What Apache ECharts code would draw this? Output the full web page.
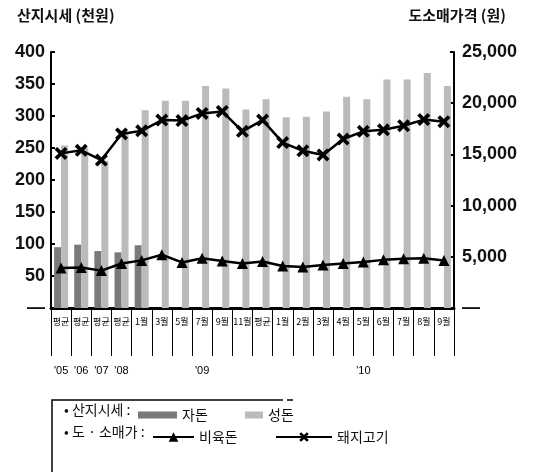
<!DOCTYPE html>
<html><head><meta charset="utf-8">
<script src="https://cdn.jsdelivr.net/npm/echarts@6/dist/echarts.min.js"></script>
<style>html,body{margin:0;padding:0;background:#fff}#c{width:535px;height:472px}</style>
</head><body><div id="c"></div>
<script>
// ---- data ----
const categories = ['평균','평균','평균','평균','1월','3월','5월','7월','9월','11월','평균','1월','2월','3월','4월','5월','6월','7월','8월','9월'];
const yearLabels = ["'05","'06","'07","'08","","","","'09","","","","","","","","'10","","","",""];
const yearBoundaries = [0,1,2,3,4,11];
const piglet = [95,99,89,87,98,null,null,null,null,null,null,null,null,null,null,null,null,null,null,null];      // 자돈 (천원)
const adult = [254,250,230,275,309,324,324,347,343,310,326,298,299,307,330,326,357,357,367,347];               // 성돈 (천원)
const wholesale = [3900,3950,3650,4350,4650,5200,4450,4850,4600,4350,4550,4100,4000,4200,4350,4500,4700,4800,4850,4650]; // 비육돈 (원)
const retail = [15100,15400,14450,17000,17300,18350,18300,19000,19200,17250,18350,16150,15350,14950,16500,17250,17400,17800,18400,18200]; // 돼지고기 (원)
const leftTickLabels = ['—','50','100','150','200','250','300','350','400'];
const rightTickLabels = ['—','5,000','10,000','15,000','20,000','25,000'];

const KR = '"Noto Sans CJK KR", sans-serif';
const NUM = '"Liberation Sans", Arial, sans-serif';
const xMark = 'path://M0,2 L2,0 L5,3 L8,0 L10,2 L7,5 L10,8 L8,10 L5,7 L2,10 L0,8 L3,5 Z';

const chart = echarts.init(document.getElementById('c'), null, {renderer: 'canvas'});
chart.setOption({
  animation: false,
  backgroundColor: '#fff',
  title: [
    {text: '산지시세 (천원)', left: 12, top: 3, textStyle: {fontFamily: KR, fontSize: 15, fontWeight: 'bold', color: '#111'}},
    {text: '도소매가격 (원)', right: 24, top: 3, textStyle: {fontFamily: KR, fontSize: 15, fontWeight: 'bold', color: '#111'}}
  ],
  grid: {left: 51, right: 81, top: 52, bottom: 164},
  legend: [
    {data: ['자돈'], left: 133, top: 403, icon: 'rect', itemWidth: 39, itemHeight: 7, textStyle: {fontFamily: KR, fontSize: 14, color: '#111'}},
    {data: ['성돈'], left: 240, top: 403, icon: 'rect', itemWidth: 18, itemHeight: 7, textStyle: {fontFamily: KR, fontSize: 14, color: '#111'}},
    {data: ['비육돈'], left: 147, top: 425, itemWidth: 41, itemHeight: 12, textStyle: {fontFamily: KR, fontSize: 14, color: '#111'}},
    {data: ['돼지고기'], left: 270, top: 425, itemWidth: 56, itemHeight: 12, textStyle: {fontFamily: KR, fontSize: 14, color: '#111'}}
  ],
  xAxis: [
    {type: 'category', data: categories, position: 'bottom',
     axisLine: {lineStyle: {color: '#000', width: 3}},
     axisTick: {show: true, interval: 0, length: 48, lineStyle: {color: '#000', width: 1}},
     axisLabel: {interval: 0, fontFamily: KR, fontSize: 9, color: '#000', margin: 9}},
    {type: 'category', data: yearLabels, position: 'bottom', offset: 48,
     axisLine: {show: false},
     axisTick: {show: true, length: 32, interval: function (i) { return yearBoundaries.indexOf(i) >= 0; }, lineStyle: {color: '#000', width: 1}},
     axisLabel: {interval: 0, fontFamily: NUM, fontSize: 11, color: '#000', margin: 9}}
  ],
  yAxis: [
    {type: 'value', min: 0, max: 400, interval: 50, position: 'left',
     axisLine: {show: true, lineStyle: {color: '#000', width: 2}},
     axisTick: {show: true, inside: true, length: 4, lineStyle: {color: '#000', width: 2}},
     splitLine: {show: false},
     axisLabel: {margin: 6, fontFamily: NUM, fontSize: 18, fontWeight: 'bold', color: '#111',
       formatter: function (v) { return leftTickLabels[v / 50]; }}},
    {type: 'value', min: 0, max: 25000, interval: 5000, position: 'right',
     axisLine: {show: true, lineStyle: {color: '#000', width: 2}},
     axisTick: {show: true, inside: true, length: 4, lineStyle: {color: '#000', width: 2}},
     splitLine: {show: false},
     axisLabel: {margin: 8, fontFamily: NUM, fontSize: 18, fontWeight: 'bold', color: '#111',
       formatter: function (v) { return rightTickLabels[v / 5000]; }}}
  ],
  series: [
    {name: '자돈', type: 'bar', data: piglet, barWidth: 7, barGap: '0%', itemStyle: {color: '#7a7a7a'}, z: 2},
    {name: '성돈', type: 'bar', data: adult, barWidth: 7, barGap: '0%', itemStyle: {color: '#bbbbbb'}, z: 2},
    {name: '비육돈', type: 'line', yAxisIndex: 1, data: wholesale, symbol: 'triangle', symbolSize: 11,
     lineStyle: {color: '#000', width: 2.5}, itemStyle: {color: '#000'}, z: 5},
    {name: '돼지고기', type: 'line', yAxisIndex: 1, data: retail, symbol: xMark, symbolSize: 13,
     lineStyle: {color: '#000', width: 2.5}, itemStyle: {color: '#000'}, z: 5}
  ],
  graphic: [
    {type: 'polyline', shape: {points: [[283, 400], [52, 400], [52, 472]]}, style: {stroke: '#000', lineWidth: 1.5, fill: null}},
    {type: 'line', shape: {x1: 287, y1: 400, x2: 293, y2: 400}, style: {stroke: '#000', lineWidth: 1.5}},
    {type: 'text', left: 64, top: 403, style: {text: '• 산지시세 :', fontFamily: KR, fontSize: 14, fill: '#111'}},
    {type: 'text', left: 64, top: 425, style: {text: '• 도 · 소매가 :', fontFamily: KR, fontSize: 14, fill: '#111'}}
  ]
});
</script></body></html>
